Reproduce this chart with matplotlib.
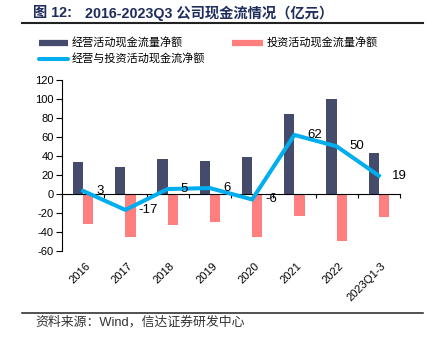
import numpy as np
import matplotlib
matplotlib.use("Agg")
import matplotlib.pyplot as plt
from matplotlib.lines import Line2D
import matplotlib.transforms as mtransforms

plt.rcParams['font.family'] = ['Liberation Sans', 'Noto Sans CJK SC', 'DejaVu Sans']
plt.rcParams['axes.unicode_minus'] = False

# data (亿元)
years = ["2016", "2017", "2018", "2019", "2020", "2021", "2022", "2023Q1-3"]
operating = [34, 28.5, 37, 35, 39, 84.5, 99.5, 42.5]
investing = [-31.5, -46, -33, -29.5, -46, -23, -50, -24]
net_flow = [3, -17, 5, 6, -6, 62, 50, 19]

C_OP = "#444B6B"
C_INV = "#FF7F7F"
C_NET = "#00AEEF"
C_TITLE = "#1F2D5C"

fig = plt.figure(figsize=(4.34, 3.5), dpi=100)
ax = fig.add_axes([62 / 434, 1 - 250.7 / 350, 338 / 434, 170.8 / 350])

x = np.arange(len(years))
w = 0.24
ax.bar(x - w / 2, operating, width=w, color=C_OP, edgecolor="none", zorder=2)
ax.bar(x + w / 2, investing, width=w, color=C_INV, edgecolor="none", zorder=2)
ax.plot(x, net_flow, color=C_NET, lw=2.9, solid_joinstyle="miter", zorder=3)

# data labels to the right of each point
off = mtransforms.offset_copy(ax.transData, fig=fig, x=13, y=0, units="dots")
for xi, v in zip(x, net_flow):
    ax.text(xi, v, f"{v}", transform=off, ha="left", va="center",
            fontsize=9.5, color="black", zorder=4)

ax.set_xlim(-0.5, len(years) - 0.5)
ax.set_ylim(-60, 120)
ax.set_yticks(np.arange(-60, 121, 20))
ax.tick_params(axis="y", direction="out", length=4, width=0.8, labelsize=8, pad=2)

# x axis at zero with ticks at category boundaries
ax.spines["bottom"].set_position(("data", 0))
ax.set_xticks(np.arange(-0.5, len(years), 1.0))
ax.set_xticklabels([])
ax.tick_params(axis="x", direction="out", length=3, width=0.8)
for s in ["top", "right"]:
    ax.spines[s].set_visible(False)
ax.spines["left"].set_linewidth(0.8)
ax.spines["bottom"].set_linewidth(0.8)

# category labels under the plot
trans = mtransforms.blended_transform_factory(ax.transData, ax.transAxes)
for xi, lab in zip(x, years):
    ax.text(xi + 0.05, -0.06, lab, transform=trans, rotation=45, ha="right",
            va="top", rotation_mode="anchor", fontsize=8)

# title and rules
fig.text(33 / 434, 1 - 13 / 350, "图 12:", fontsize=10.3, fontweight="bold",
         color=C_TITLE, ha="left", va="center")
fig.text(85 / 434, 1 - 13 / 350, "2016-2023Q3 公司现金流情况（亿元）",
         fontsize=10.3, fontweight="bold", color=C_TITLE, ha="left", va="center")
fig.add_artist(Line2D([22 / 434, 423 / 434], [1 - 22.7 / 350] * 2, color="#222222", lw=1.5))
fig.add_artist(Line2D([22 / 434, 423 / 434], [1 - 312.7 / 350] * 2, color="#222222", lw=1.1))
fig.text(35 / 434, 1 - 322 / 350, "资料来源：Wind，信达证券研发中心", fontsize=9.3,
         color="#333333", ha="left", va="center")

# legend drawn by hand
leg = [
    (39, 68, 42.7, C_OP, 4.5, "经营活动现金流量净额"),
    (232, 263, 42.7, C_INV, 4.5, "投资活动现金流量净额"),
    (39, 68, 59.3, C_NET, 2.9, "经营与投资活动现金流净额"),
]
for x0, x1, y, c, lw, lab in leg:
    fig.add_artist(Line2D([x0 / 434, x1 / 434], [1 - y / 350] * 2, color=c, lw=lw,
                          solid_capstyle="butt" if lw > 3 else "round"))
    fig.text((x1 + 4) / 434, 1 - y / 350, lab, fontsize=8, ha="left", va="center")

fig.savefig("out.png", dpi=100)
